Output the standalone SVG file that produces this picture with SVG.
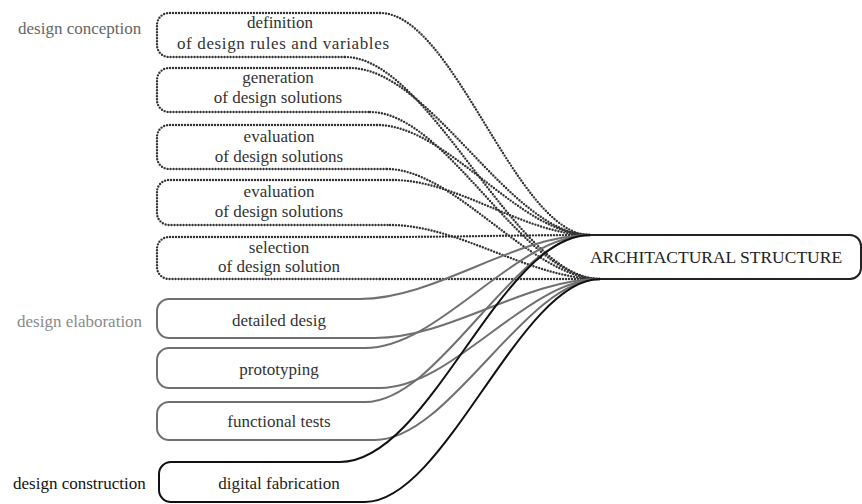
<svg xmlns="http://www.w3.org/2000/svg" width="862" height="504" viewBox="0 0 862 504">
<style>
  .dot{fill:none;stroke:#333;stroke-width:2.4;stroke-dasharray:0 3;stroke-linecap:round}
  .gry{fill:none;stroke:#707070;stroke-width:2}
  .blk{fill:none;stroke:#111;stroke-width:2}
  .as{fill:none;stroke:#222;stroke-width:2}
  .c{text-anchor:middle}
  .t{font-family:"Liberation Serif","Tinos","Nimbus Roman","Nimbus Roman No9 L","FreeSerif","DejaVu Serif","Noto Serif","Times New Roman",Times,serif;font-size:17px;fill:#333}
</style>
<rect width="862" height="504" fill="#fff"/>

<g class="t">
<text fill="#666" x="18" y="34">design conception</text>
<text fill="#8a8a8a" x="17" y="327">design elaboration</text>
<text fill="#111" x="13" y="489">design construction</text>
</g>

<g id="connectors">
  <path class="dot" d="M380,13 C454,13 516,235 590,235"/>
  <path class="dot" d="M345,57 C430,57 515,279 600,279"/>
  <path class="dot" d="M350,68 C430,68 510,235 590,235"/>
  <path class="dot" d="M370,112 C447,112 523,279 600,279"/>
  <path class="dot" d="M377,125 C448,125 519,235 590,235"/>
  <path class="dot" d="M387,169 C455,169 532,279 600,279"/>
  <path class="dot" d="M393,180 C458,180 525,235 590,235"/>
  <path class="dot" d="M390,225 C460,225 530,279 600,279"/>
  <path class="dot" d="M380,237 C450,237 520,235 590,235"/>
  <path class="dot" d="M380,279 C450,279 530,279 600,279"/>
  <path class="gry" d="M360,299 C436,299 514,235 590,235"/>
  <path class="gry" d="M375,338 C450,338 525,279 600,279"/>
  <path class="gry" d="M365,348 C440,348 515,235 590,235"/>
  <path class="gry" d="M380,388 C453,388 527,279 600,279"/>
  <path class="gry" d="M365,402 C440,402 515,235 590,235"/>
  <path class="gry" d="M375,440 C450,440 525,279 600,279"/>
  <path class="blk" d="M340,462 C430,462 500,235 590,235"/>
  <path class="blk" d="M365,502 C445,502 520,279 600,279"/>
</g>

<g class="t">
<g id="architactural-structure">
  <path class="as" d="M590,235 H850 A11,11 0 0 1 861,246 V268 A11,11 0 0 1 850,279 H600"/>
  <text class="c" x="716" y="263" font-size="17.5" fill="#222" style="font-size:17.5px">ARCHITACTURAL STRUCTURE</text>
</g>

<g id="definition">
  <path class="dot" d="M380,13 H169 A12,12 0 0 0 157,25 V45 A12,12 0 0 0 169,57 H345"/>
  <text class="c" x="280" y="28">definition</text>
  <text class="c" x="283" y="49" textLength="212">of design rules and variables</text>
</g>
<g id="generation">
  <path class="dot" d="M350,68 H169 A12,12 0 0 0 157,80 V100 A12,12 0 0 0 169,112 H370"/>
  <text class="c" x="278" y="83">generation</text>
  <text class="c" x="278" y="103">of design solutions</text>
</g>
<g id="evaluation-1">
  <path class="dot" d="M377,125 H169 A12,12 0 0 0 157,137 V157 A12,12 0 0 0 169,169 H387"/>
  <text class="c" x="279" y="142">evaluation</text>
  <text class="c" x="279" y="162">of design solutions</text>
</g>
<g id="evaluation-2">
  <path class="dot" d="M393,180 H169 A12,12 0 0 0 157,192 V213 A12,12 0 0 0 169,225 H390"/>
  <text class="c" x="279" y="197">evaluation</text>
  <text class="c" x="279" y="217">of design solutions</text>
</g>
<g id="selection">
  <path class="dot" d="M380,237 H169 A12,12 0 0 0 157,249 V267 A12,12 0 0 0 169,279 H380"/>
  <text class="c" x="279" y="253">selection</text>
  <text class="c" x="279" y="272">of design solution</text>
</g>
<g id="detailed-desig">
  <path class="gry" d="M360,299 H169 A12,12 0 0 0 157,311 V326 A12,12 0 0 0 169,338 H375"/>
  <text class="c" x="279" y="326">detailed desig</text>
</g>
<g id="prototyping">
  <path class="gry" d="M365,348 H169 A12,12 0 0 0 157,360 V376 A12,12 0 0 0 169,388 H380"/>
  <text class="c" x="279" y="375">prototyping</text>
</g>
<g id="functional-tests">
  <path class="gry" d="M365,402 H169 A12,12 0 0 0 157,414 V428 A12,12 0 0 0 169,440 H375"/>
  <text class="c" x="279" y="427">functional tests</text>
</g>
<g id="digital-fabrication">
  <path class="blk" d="M340,462 H171 A12,12 0 0 0 159,474 V490 A12,12 0 0 0 171,502 H365"/>
  <text class="c" x="279" y="489" fill="#222">digital fabrication</text>
</g>
</g>
</svg>
